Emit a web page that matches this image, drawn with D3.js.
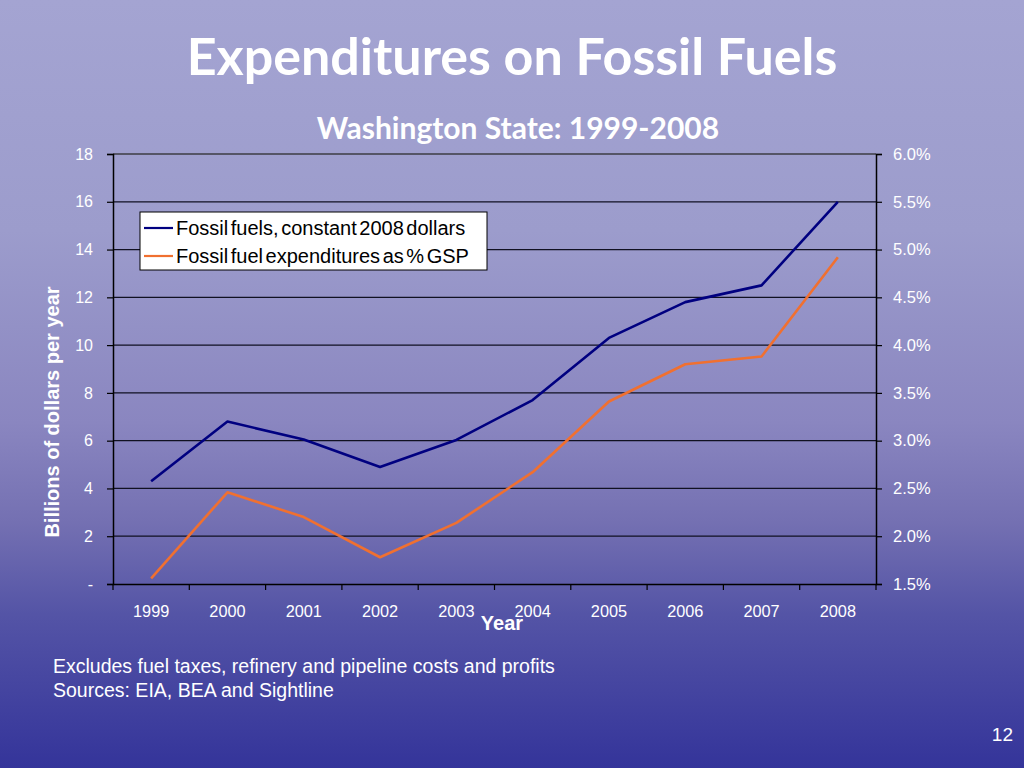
<!DOCTYPE html>
<html><head><meta charset="utf-8">
<script src="https://cdn.jsdelivr.net/npm/d3@7"></script>
<style>html,body{margin:0;padding:0;overflow:hidden;}</style>
</head><body>
<svg id="c" width="1024" height="768"></svg>
<script>
const years = ["1999","2000","2001","2002","2003","2004","2005","2006","2007","2008"];
const fossilDollars = [4.3, 6.8, 6.05, 4.9, 6.03, 7.7, 10.3, 11.8, 12.5, 16.0];
const fossilPctGSP = [1.56, 2.46, 2.2, 1.78, 2.14, 2.67, 3.41, 3.8, 3.88, 4.92];
const leftTicks = [0, 2, 4, 6, 8, 10, 12, 14, 16, 18];
const rightTicks = [1.5, 2.0, 2.5, 3.0, 3.5, 4.0, 4.5, 5.0, 5.5, 6.0];
const seriesNames = ["Fossil fuels, constant 2008 dollars", "Fossil fuel expenditures as % GSP"];
const seriesColors = ["#000080", "#f07030"];

const svg = d3.select("#c");
const defs = svg.append("defs");
const g = defs.append("linearGradient").attr("id","bg").attr("x1",0).attr("y1",0).attr("x2",0).attr("y2",1);
[[0,"#a4a4d2"],[0.3,"#9c9ccc"],[0.55,"#8a86c0"],[0.68,"#7470b2"],[0.8,"#5454a6"],[1,"#34349a"]]
  .forEach(([o,c])=>g.append("stop").attr("offset",o).attr("stop-color",c));
svg.append("rect").attr("width",1024).attr("height",768).attr("fill","url(#bg)");

const L=113, R=876, T=154, B=584;
const x = d3.scaleBand().domain(years).range([L,R]);
const y = d3.scaleLinear().domain([0,18]).range([B,T]);
const y2 = d3.scaleLinear().domain([1.5,6.0]).range([B,T]);
const FONT = "Liberation Sans, Arial";

// gridlines
svg.append("g").selectAll("line").data(leftTicks.filter(d=>d>0)).join("line")
  .attr("x1",L).attr("x2",R).attr("y1",d=>y(d)).attr("y2",d=>y(d))
  .attr("stroke",d=>d===18?"#555566":"#111122").attr("stroke-width",d=>d===18?2:1.2);

// left axis
const la = svg.append("g").attr("transform",`translate(${L},0)`)
  .call(d3.axisLeft(y).tickValues(leftTicks).tickSize(6).tickPadding(14).tickFormat(d=>d===0?"-":d));
la.select(".domain").attr("stroke","#000").attr("stroke-width",1.5);
la.selectAll(".tick line").attr("stroke","#000").attr("stroke-width",1.2);
la.selectAll("text").attr("fill","#fff").attr("font-family",FONT).attr("font-size",16);

// right axis
const ra = svg.append("g").attr("transform",`translate(${R},0)`)
  .call(d3.axisRight(y2).tickValues(rightTicks).tickSize(6).tickPadding(11).tickFormat(d=>d.toFixed(1)+"%"));
ra.select(".domain").attr("stroke","#000").attr("stroke-width",1.5);
ra.selectAll(".tick line").attr("stroke","#000").attr("stroke-width",1.2);
ra.selectAll("text").attr("fill","#fff").attr("font-family",FONT).attr("font-size",16.5);

// bottom axis
const xa = svg.append("g").attr("transform",`translate(0,${B})`)
  .call(d3.axisBottom(x).tickSize(0).tickPadding(21));
xa.select(".domain").attr("stroke","#000").attr("stroke-width",1.5);
xa.selectAll("text").attr("fill","#fff").attr("font-family",FONT).attr("font-size",16.3);
const bounds = years.map(d=>x(d)).concat([R]);
svg.append("g").selectAll("line").data(bounds).join("line")
  .attr("x1",d=>d).attr("x2",d=>d).attr("y1",B).attr("y2",B+6).attr("stroke","#000").attr("stroke-width",1.2);

// lines
const cx = d=>x(d)+x.bandwidth()/2;
svg.append("path").datum(fossilPctGSP.map((v,i)=>[years[i],v]))
  .attr("fill","none").attr("stroke",seriesColors[1]).attr("stroke-width",2.6).attr("stroke-linejoin","round")
  .attr("d",d3.line().x(d=>cx(d[0])).y(d=>y2(d[1])));
svg.append("path").datum(fossilDollars.map((v,i)=>[years[i],v]))
  .attr("fill","none").attr("stroke",seriesColors[0]).attr("stroke-width",2.6).attr("stroke-linejoin","round")
  .attr("d",d3.line().x(d=>cx(d[0])).y(d=>y(d[1])));

// legend
const lg = svg.append("g");
lg.append("rect").attr("x",140).attr("y",212).attr("width",347).attr("height",58).attr("fill","#fff").attr("stroke","#000").attr("stroke-width",1);
seriesNames.forEach((n,i)=>{
  const yy = 228 + i*28;
  lg.append("line").attr("x1",144).attr("x2",173).attr("y1",yy).attr("y2",yy).attr("stroke",seriesColors[i]).attr("stroke-width",2.2);
  lg.append("text").attr("x",176).attr("y",yy+7).text(n).attr("font-family",FONT).attr("font-size",20).attr("fill","#000").attr("word-spacing",-3);
});

// titles
svg.append("text").attr("x",512).attr("y",75).attr("text-anchor","middle").text("Expenditures on Fossil Fuels")
  .attr("font-family","Lato, Open Sans").attr("font-weight","bold").attr("font-size",52).attr("fill","#fff");
svg.append("text").attr("x",518).attr("y",139).attr("text-anchor","middle").text("Washington State: 1999-2008")
  .attr("font-family","Lato, Open Sans").attr("font-weight","bold").attr("font-size",30).attr("fill","#fff");

// axis titles
svg.append("text").attr("transform","translate(59,412) rotate(-90)").attr("text-anchor","middle").text("Billions of dollars per year")
  .attr("font-family",FONT).attr("font-weight","bold").attr("font-size",20).attr("fill","#fff");
svg.append("text").attr("x",502).attr("y",630).attr("text-anchor","middle").text("Year")
  .attr("font-family",FONT).attr("font-weight","bold").attr("font-size",20).attr("fill","#fff");

// notes
svg.append("text").attr("x",53).attr("y",673).text("Excludes fuel taxes, refinery and pipeline costs and profits")
  .attr("font-family",FONT).attr("font-size",19.5).attr("fill","#fff");
svg.append("text").attr("x",53).attr("y",697).text("Sources: EIA, BEA and Sightline")
  .attr("font-family",FONT).attr("font-size",19.5).attr("fill","#fff");
svg.append("text").attr("x",1013).attr("y",741).attr("text-anchor","end").text("12")
  .attr("font-family",FONT).attr("font-size",19).attr("fill","#fff");
</script>
</body></html>
